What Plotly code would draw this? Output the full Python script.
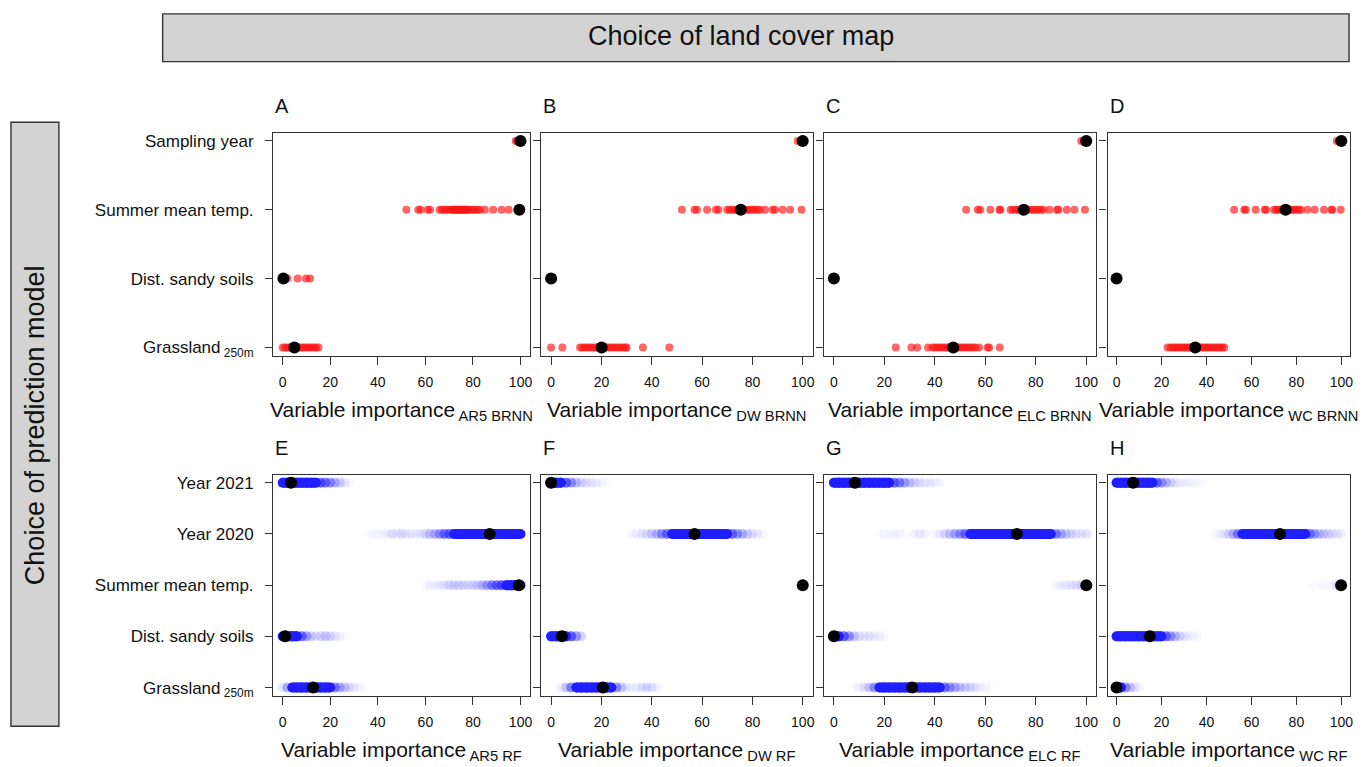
import plotly.graph_objects as go

W, H = 1367, 767

# ---------------- categories / labels ----------------
top_vars = ["Sampling year", "Summer mean temp.", "Dist. sandy soils", "Grassland<sub> 250m</sub>"]
bot_vars = ["Year 2021", "Year 2020", "Summer mean temp.", "Dist. sandy soils", "Grassland<sub> 250m</sub>"]
top_pos = [4, 3, 2, 1]
bot_pos = [5, 4, 3, 2, 1]
x_ticks = [0, 20, 40, 60, 80, 100]
panel_letters = ["A", "B", "C", "D", "E", "F", "G", "H"]
subs_top = ["AR5 BRNN", "DW BRNN", "ELC BRNN", "WC BRNN"]
subs_bot = ["AR5 RF", "DW RF", "ELC RF", "WC RF"]

# ---------------- BRNN (top row) resampled importances ----------------
A_sampling = [98, 98.5, 99, 99.5]
A_summer = [52, 57, 58, 61, 62, 66, 67, 68, 69, 70, 71, 71.5, 72, 72.5, 73, 73.5, 74, 74.5, 75,
            75.5, 76, 76.5, 77, 77.5, 78, 79, 80, 81, 82, 83, 85, 88.5, 92, 95, 99]
A_dist = [0, 1, 2, 6.3, 9.8, 11.5]
A_grass = [0, 1, 2, 3, 4, 5, 6, 7, 8, 9, 10, 11, 12, 13, 14, 15]
A_black = [100, 99.5, 0.3, 4.9]

B_sampling = [98, 99]
B_summer = [52, 57, 58, 62, 65.5, 66.5, 70, 71, 72, 73, 74, 75, 76, 77, 78, 79, 80, 81, 82, 83,
            85, 88, 89, 92, 95, 99.5]
B_dist = []
B_grass = [0, 4.5, 11.5, 12.5, 13.5, 14.5, 15.5, 16.5, 17.5, 18.5, 19.5, 20.5, 21.5, 22.5, 23.5,
           24.5, 25.5, 26.5, 27.5, 28.5, 29.5, 30, 36.5, 47]
B_black = [100, 75.4, 0, 20.1]

C_sampling = [98, 99]
C_summer = [52.4, 57, 58, 62, 65.6, 66, 70, 71, 72, 73, 74, 75, 76, 77, 78, 79, 80, 81, 82, 83,
            85.4, 88.4, 89, 92.3, 95.3, 99.5]
C_dist = []
C_grass = [24.5, 30.7, 33, 37.3, 39, 40, 41, 42, 43, 44, 45, 46, 47, 48, 49, 50, 51, 52, 53, 54,
           55, 56, 57.5, 60.9, 61.5, 65.7]
C_black = [100, 75.2, 0, 47.3]

D_sampling = [98, 99]
D_summer = [52.3, 56.8, 57.5, 61.9, 65.9, 66.5, 70, 71, 72, 73, 74, 75, 76, 77, 78, 79, 80, 81,
            82, 84.9, 88.1, 92.3, 95.6, 96, 99.7]
D_dist = []
D_grass = [22.7, 24, 25, 26, 27, 28, 29, 30, 31, 32, 33, 34, 35, 36, 37, 38, 39, 40, 41, 42, 43,
           44, 45, 46, 47, 47.9]
D_black = [100, 75.2, 0, 35]

# ---------------- RF (bottom row): (importance, relative density) read from smears ----------------
E_2021 = [(0, 1), (2, 1), (4, 1), (6, 1), (8, 1), (10, 1), (12, 1), (14, 1), (16, .9), (18, .8),
          (20, .6), (22, .4), (24, .25), (26, .12), (28, .05)]
E_2020 = [(36, .03), (38, .04), (40, .05), (42, .05), (44, .08), (46, .15), (48, .1), (50, .18),
          (52, .12), (54, .1), (56, .1), (58, .12), (60, .2), (62, .3), (64, .4), (66, .6), (68, .8),
          (70, .9), (72, 1), (74, 1), (76, 1), (78, 1), (80, 1), (82, 1), (84, 1), (86, 1), (88, 1),
          (90, 1), (92, 1), (94, 1), (96, 1), (98, 1), (100, 1)]
E_summer = [(60, .04), (62, .06), (64, .08), (66, .1), (68, .12), (70, .2), (72, .22), (74, .22),
            (76, .2), (78, .18), (80, .2), (82, .25), (84, .35), (86, .5), (88, .7), (90, .85),
            (92, .95), (94, 1), (96, 1), (98, 1), (100, 1)]
E_dist = [(0, 1), (2, 1), (4, 1), (6, 1), (8, .85), (10, .5), (12, .25), (14, .15), (16, .2),
          (18, .25), (20, .2), (22, .12), (24, .06), (26, .03)]
E_grass = [(0, .15), (2, .45), (4, 1), (6, 1), (8, 1), (10, 1), (12, 1), (14, 1), (16, 1), (18, 1),
           (20, 1), (22, .7), (24, .45), (26, .3), (28, .18), (30, .1), (32, .05), (34, .02)]
E_black = [3.5, 87, 99.3, 1, 12.8]

F_2021 = [(0, 1), (2, 1), (4, 1), (6, .9), (8, .6), (10, .35), (12, .2), (14, .15), (16, .12),
          (18, .08), (20, .05), (22, .02)]
F_2020 = [(32, .05), (34, .08), (36, .12), (38, .18), (40, .25), (42, .4), (44, .6), (46, .85),
          (48, 1), (50, 1), (52, 1), (54, 1), (56, 1), (58, 1), (60, 1), (62, 1), (64, 1), (66, 1),
          (68, 1), (70, 1), (72, .8), (74, .6), (76, .4), (78, .25), (80, .15), (82, .1), (84, .05)]
F_summer = [(98, .05), (100, .1)]
F_dist = [(0, 1), (2, 1), (4, 1), (6, 1), (8, .9), (10, .55), (12, .25)]
F_grass = [(4, .1), (6, .3), (8, .7), (10, 1), (12, 1), (14, 1), (16, 1), (18, 1), (20, 1), (22, 1),
           (24, 1), (26, .6), (28, .3), (30, .12), (32, .06), (34, .1), (36, .15), (38, .2),
           (40, .15), (42, .08)]
F_black = [0, 57, 100, 4.3, 20.6]

G_2021 = [(0, 1), (2, 1), (4, 1), (6, 1), (8, 1), (10, 1), (12, 1), (14, 1), (16, 1), (18, 1),
          (20, 1), (22, 1), (24, .85), (26, .7), (28, .5), (30, .3), (32, .22), (34, .15),
          (36, .12), (38, .1), (40, .08), (42, .05)]
G_2020 = [(18, .03), (20, .05), (22, .04), (24, .06), (26, .05), (28, .03), (32, .08), (34, .1),
          (36, .08), (40, .05), (42, .1), (44, .2), (46, .3), (48, .45), (50, .6), (52, .8), (54, 1),
          (56, 1), (58, 1), (60, 1), (62, 1), (64, 1), (66, 1), (68, 1), (70, 1), (72, 1), (74, 1),
          (76, 1), (78, 1), (80, 1), (82, 1), (84, 1), (86, 1), (88, .7), (90, .45), (92, .3),
          (94, .2), (96, .15), (98, .12), (100, .15)]
G_summer = [(88, .05), (90, .08), (92, .1), (94, .12), (96, .15), (98, .2), (100, .3)]
G_dist = [(0, 1), (2, 1), (4, .9), (6, .6), (8, .3), (10, .15), (12, .1), (14, .15), (16, .08),
          (18, .08), (20, .04)]
G_grass = [(8, .03), (10, .08), (12, .15), (14, .3), (16, .6), (18, 1), (20, 1), (22, 1), (24, 1),
           (26, 1), (28, 1), (30, 1), (32, 1), (34, 1), (36, 1), (38, 1), (40, 1), (42, 1), (44, .8),
           (46, .6), (48, .45), (50, .3), (52, .25), (54, .2), (56, .12), (58, .08), (60, .05),
           (62, .03)]
G_black = [8.3, 72.5, 100, 0, 31]

H_2021 = [(0, 1), (2, 1), (4, 1), (6, 1), (8, 1), (10, 1), (12, 1), (14, 1), (16, 1), (18, .8),
          (20, .55), (22, .35), (24, .2), (26, .12), (28, .08), (30, .06), (32, .05), (34, .04),
          (36, .04), (38, .03)]
H_2020 = [(44, .04), (46, .06), (48, .12), (50, .2), (52, .4), (54, .7), (56, 1), (58, 1), (60, 1),
          (62, 1), (64, 1), (66, 1), (68, 1), (70, 1), (72, 1), (74, 1), (76, 1), (78, 1), (80, 1),
          (82, 1), (84, 1), (86, .75), (88, .5), (90, .35), (92, .25), (94, .2), (96, .15),
          (98, .12), (100, .1)]
H_summer = [(88, .03), (92, .05), (96, .08), (98, .12), (100, .2)]
H_dist = [(0, 1), (2, 1), (4, 1), (6, 1), (8, 1), (10, 1), (12, 1), (14, 1), (16, 1), (18, 1),
          (20, 1), (22, .8), (24, .55), (26, .35), (28, .2), (30, .12), (32, .08), (34, .05),
          (36, .03)]
H_grass = [(0, 1), (2, 1), (4, .6), (6, .3), (8, .15), (10, .06)]
H_black = [7.4, 72.7, 99.9, 14.8, 0]

top_panels = [
    ([A_sampling, A_summer, A_dist, A_grass], A_black),
    ([B_sampling, B_summer, B_dist, B_grass], B_black),
    ([C_sampling, C_summer, C_dist, C_grass], C_black),
    ([D_sampling, D_summer, D_dist, D_grass], D_black),
]
bot_panels = [
    ([E_2021, E_2020, E_summer, E_dist, E_grass], E_black),
    ([F_2021, F_2020, F_summer, F_dist, F_grass], F_black),
    ([G_2021, G_2020, G_summer, G_dist, G_grass], G_black),
    ([H_2021, H_2020, H_summer, H_dist, H_grass], H_black),
]

# ---------------- layout geometry (pixels) ----------------
col_px = [(273.8, 531.2), (542.2, 814.6), (825.6, 1098.8), (1110.0, 1353.3)]
row_px = [(132.5, 357.0), (476.7, 699.3)]
FONT = "Liberation Sans"
LINE = "#333333"
TXT = "#111111"
BLUE = "rgb(30,30,255)"

fig = go.Figure()
layout = dict(
    width=W, height=H, margin=dict(l=0, r=0, t=0, b=0),
    paper_bgcolor="white", plot_bgcolor="white", showlegend=False,
    font=dict(family=FONT, color=TXT),
)
annotations = []
shapes = []

idx = 0
for r in range(2):
    for c in range(4):
        idx += 1
        xn = "x" if idx == 1 else f"x{idx}"
        yn = "y" if idx == 1 else f"y{idx}"
        xk = "xaxis" if idx == 1 else f"xaxis{idx}"
        yk = "yaxis" if idx == 1 else f"yaxis{idx}"
        x0, x1 = col_px[c]
        y0, y1 = row_px[r]
        if r == 0:
            series, blacks = top_panels[c]
            pos = top_pos
            labels = top_vars
            yr = [0.88, 4.12]
            for vals, p in zip(series, pos):
                if vals:
                    fig.add_trace(go.Scatter(
                        x=vals, y=[p] * len(vals), xaxis=xn, yaxis=yn, mode="markers",
                        marker=dict(size=8, color="rgba(255,20,20,0.65)", line=dict(width=0)),
                        hoverinfo="x"))
            sub = subs_top[c]
        else:
            series, blacks = bot_panels[c]
            pos = bot_pos
            labels = bot_vars
            yr = [0.84, 5.16]
            for pairs, p in zip(series, pos):
                xs = [v for v, w in pairs]
                cols = [(BLUE if w >= 1 else f"rgba(30,30,255,{0.7 * w:.3f})")
                        for v, w in pairs]
                fig.add_trace(go.Scatter(
                    x=xs, y=[p] * len(xs), xaxis=xn, yaxis=yn, mode="markers",
                    marker=dict(size=10, color=cols, line=dict(width=0)),
                    hoverinfo="x"))
                dense = [v for v, w in pairs if w >= 1]
                if len(dense) > 1:
                    fig.add_trace(go.Scatter(
                        x=dense, y=[p] * len(dense), xaxis=xn, yaxis=yn, mode="lines",
                        line=dict(color=BLUE, width=10), hoverinfo="skip"))
            sub = subs_bot[c]
        fig.add_trace(go.Scatter(
            x=blacks, y=pos, xaxis=xn, yaxis=yn, mode="markers",
            marker=dict(size=12, color="black", line=dict(width=0)), hoverinfo="x"))

        layout[xk] = dict(
            domain=[x0 / W, x1 / W], range=[-4, 104], anchor=yn,
            tickmode="array", tickvals=x_ticks, ticktext=[str(t) for t in x_ticks],
            ticks="outside", ticklen=8, tickwidth=1.2, tickcolor=LINE,
            showline=True, linecolor=LINE, linewidth=1.4, mirror=True,
            showgrid=False, zeroline=False, fixedrange=True,
            tickfont=dict(size=14, color=TXT, family=FONT), ticklabelstandoff=5,
        )
        layout[yk] = dict(
            domain=[1 - y1 / H, 1 - y0 / H], range=yr, anchor=xn,
            tickmode="array", tickvals=pos, ticktext=labels,
            showticklabels=(c == 0),
            ticks="outside", ticklen=7, tickwidth=1.2, tickcolor=LINE,
            showline=True, linecolor=LINE, linewidth=1.4, mirror=True,
            showgrid=False, zeroline=False, fixedrange=True,
            tickfont=dict(size=17, color=TXT, family=FONT), ticklabelstandoff=8,
        )
        # panel letter
        annotations.append(dict(
            text=panel_letters[idx - 1], x=x0 / W, y=1 - (y0 - 27) / H,
            xref="paper", yref="paper", xanchor="left", yanchor="middle",
            showarrow=False, font=dict(size=20, color=TXT, family=FONT)))
        # axis title with subscript
        annotations.append(dict(
            text=f"Variable importance<sub> {sub}</sub>",
            x=(x0 + x1) / 2 / W, y=1 - (y1 + 56) / H,
            xref="paper", yref="paper", xanchor="center", yanchor="middle",
            showarrow=False, font=dict(size=21, color=TXT, family=FONT)))

# header boxes
shapes.append(dict(type="rect", xref="paper", yref="paper",
                   x0=163 / W, x1=1352 / W, y0=1 - 61 / H, y1=1 - 13 / H,
                   fillcolor="#d3d3d3", line=dict(color=LINE, width=1.4), layer="below"))
shapes.append(dict(type="rect", xref="paper", yref="paper",
                   x0=11 / W, x1=59 / W, y0=1 - 730 / H, y1=1 - 122 / H,
                   fillcolor="#d3d3d3", line=dict(color=LINE, width=1.4), layer="below"))
annotations.append(dict(text="Choice of land cover map", x=743 / W, y=1 - 35 / H,
                        xref="paper", yref="paper", xanchor="center", yanchor="middle",
                        showarrow=False, font=dict(size=27, color=TXT, family=FONT)))
annotations.append(dict(text="Choice of prediction model", x=35 / W, y=1 - 427 / H,
                        xref="paper", yref="paper", xanchor="center", yanchor="middle",
                        textangle=-90, showarrow=False,
                        font=dict(size=27, color=TXT, family=FONT)))

layout["annotations"] = annotations
layout["shapes"] = shapes
fig.update_layout(**layout)
fig.write_html("out.html")
